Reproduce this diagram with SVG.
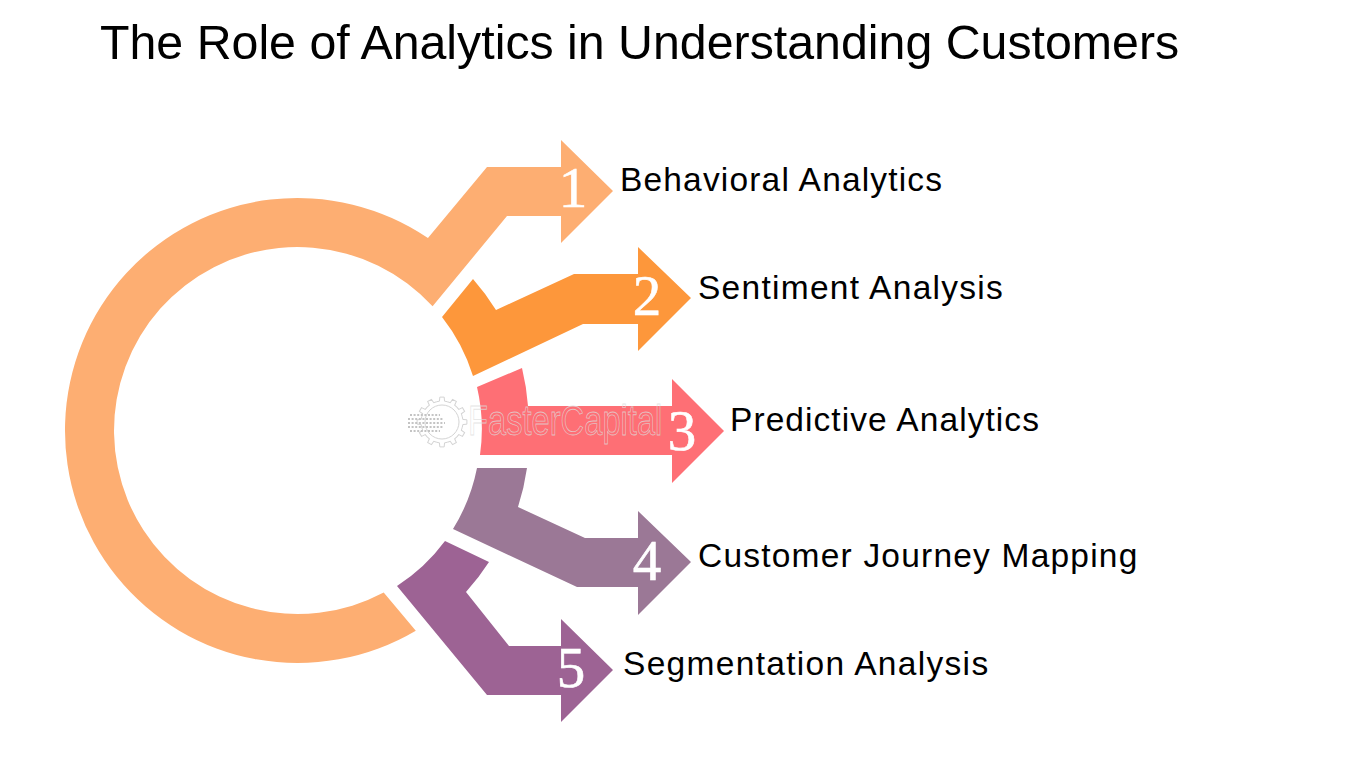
<svg xmlns="http://www.w3.org/2000/svg" width="1350" height="759" viewBox="0 0 1350 759">
<style>
.t{font-family:"Liberation Sans",Arial,sans-serif;fill:#000}
.l{font-size:33.5px;letter-spacing:1.17px}
.n{font-family:"Liberation Serif","Times New Roman",serif;font-size:57px;fill:#fff;stroke:#fff;stroke-width:.6;text-anchor:middle}
.wm{font-family:"Liberation Sans",Arial,sans-serif;font-size:43px;fill:none;stroke:#dcdcdc;stroke-width:.8;stroke-opacity:.75}
.g{fill:none;stroke:#d4d4d4;stroke-width:1}
.d{fill:none;stroke:#c4c4c4;stroke-width:2.200;stroke-dasharray:2 1.600}
</style>
<defs><path id="tooth" d="M-5.440 -20.280L-2.560 -20.840L-2.180 -24.900L2.180 -24.900L2.560 -20.840L5.440 -20.280"/></defs>
<rect width="1350" height="759" fill="#fff"/>
<text id="title" class="t" x="100" y="59" font-size="48.3">The Role of Analytics in Understanding Customers</text>
<g id="connectors"></g>
<g id="node1">
<path fill="#fdae72" d="M427.960 238.060A232.500 232.500 0 1 0 415.800 630.650L383.700 592.500A183.500 183.500 0 1 1 432.600 306.300L507 216H561V243L613 191L561 140V167H487Z"/>
<text class="n" x="573" y="207">1</text>
<text class="t l" x="620" y="191">Behavioral Analytics</text>
</g>
<g id="node2">
<path fill="#fd973b" d="M473 279A232.500 232.500 0 0 1 496 310L574 274H638V247L691 298L638 351V324H583L473 376A183.500 183.500 0 0 0 442 317Z"/>
<text class="n" x="647" y="315">2</text>
<text class="t l" x="698" y="299" style="letter-spacing:1.28px">Sentiment Analysis</text>
</g>
<g id="node3">
<path fill="#fe6f75" d="M477 387L522 368A232.500 232.500 0 0 1 528 406H672V379L724 431L672 483V455H480A183.500 183.500 0 0 0 477 387Z"/>
<text class="t" transform="translate(468 435) scale(.76 1)" style="font-size:43px;fill:none;stroke:#dcdcdc;stroke-width:.8;stroke-opacity:.75" id="wm">FasterCapital</text>
<text class="n" x="682" y="450">3</text>
<text class="t l" x="730" y="431" style="letter-spacing:1.07px">Predictive Analytics</text>
</g>
<g id="node4">
<path fill="#9b7896" d="M477 468H527A232.500 232.500 0 0 1 518 507L585 538H638V511L691 562L638 615V587H577L453 529A183.500 183.500 0 0 0 477 468Z"/>
<text class="n" x="647" y="580">4</text>
<text class="t l" x="698" y="567" style="letter-spacing:1.21px">Customer Journey Mapping</text>
</g>
<g id="node5">
<path fill="#9d6394" d="M445 541L489 562A232.500 232.500 0 0 1 466 592L509 646H561V619L613 670L561 722V695H487L397 586A183.500 183.500 0 0 0 445 541Z"/>
<text class="n" x="571" y="687">5</text>
<text class="t l" x="623" y="675" style="letter-spacing:1.31px">Segmentation Analysis</text>
</g>
<g id="watermark">
<circle class="g" cx="442" cy="422" r="17"/>
<g transform="translate(442 422)" class="g">
<use href="#tooth"/><use href="#tooth" transform="rotate(30)"/><use href="#tooth" transform="rotate(60)"/><use href="#tooth" transform="rotate(90)"/><use href="#tooth" transform="rotate(120)"/><use href="#tooth" transform="rotate(150)"/><use href="#tooth" transform="rotate(180)"/><use href="#tooth" transform="rotate(210)"/><use href="#tooth" transform="rotate(240)"/><use href="#tooth" transform="rotate(270)"/><use href="#tooth" transform="rotate(300)"/><use href="#tooth" transform="rotate(330)"/>
</g>
<path class="d" d="M410 415H440M408 419H443M408 423H445M408 427H443M410 431H440"/>
</g>
</svg>
